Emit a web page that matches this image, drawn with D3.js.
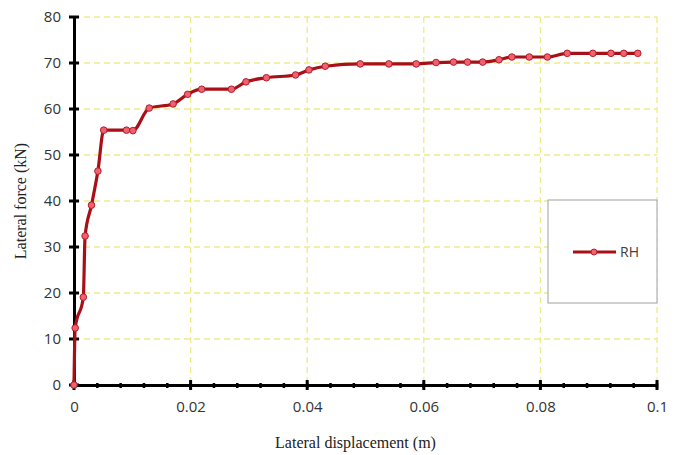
<!DOCTYPE html>
<html>
<head>
<meta charset="utf-8">
<script src="https://cdn.jsdelivr.net/npm/d3@7"></script>
<style>
  html, body { margin: 0; padding: 0; background: #fff; }
  svg { display: block; }
</style>
</head>
<body>
<svg id="chart" width="674" height="455"></svg>
<script>
// Lateral displacement (m) and lateral force (kN) for the RH specimen
const displacement = [0, 0.0002, 0.0016, 0.0019, 0.003, 0.0041, 0.0051, 0.009, 0.0101, 0.0129, 0.017,
  0.0195, 0.0219, 0.027, 0.0295, 0.033, 0.038, 0.0403, 0.0431, 0.0491, 0.054, 0.0587, 0.0621,
  0.0651, 0.0675, 0.0701, 0.0729, 0.0751, 0.0781, 0.0812, 0.0846, 0.089, 0.0921, 0.0943, 0.0967];
const force = [0, 12.4, 19.1, 32.4, 39.1, 46.5, 55.4, 55.4, 55.3, 60.2, 61.1,
  63.2, 64.3, 64.3, 65.9, 66.8, 67.4, 68.5, 69.3, 69.8, 69.8, 69.8, 70.1,
  70.2, 70.2, 70.2, 70.7, 71.3, 71.3, 71.3, 72.1, 72.1, 72.1, 72.1, 72.1];
const seriesName = "RH";
const xTicks = [0, 0.02, 0.04, 0.06, 0.08, 0.1];
const yTicks = [0, 10, 20, 30, 40, 50, 60, 70, 80];

const svg = d3.select("#chart");
const plotLeft = 74, plotRight = 657, plotTop = 17, plotBottom = 385;

const x = d3.scaleLinear().domain([0, 0.1]).range([plotLeft, plotRight]);
const y = d3.scaleLinear().domain([0, 80]).range([plotBottom, plotTop]);

// gridlines
const grid = svg.append("g").attr("stroke", "#eeec8a").attr("stroke-width", 1.3)
  .attr("stroke-dasharray", "6,4");
grid.selectAll(".hg").data(yTicks.filter(d => d > 0)).join("line")
  .attr("x1", plotLeft).attr("x2", plotRight).attr("y1", d => y(d)).attr("y2", d => y(d));
grid.selectAll(".vg").data(xTicks.filter(d => d > 0)).join("line")
  .attr("y1", plotTop).attr("y2", plotBottom).attr("x1", d => x(d)).attr("x2", d => x(d));

// legend box
const lg = svg.append("g");
lg.append("rect").attr("x", 548).attr("y", 200).attr("width", 109).attr("height", 103)
  .attr("fill", "#fff").attr("stroke", "#a0a0a0").attr("stroke-width", 1);

// axes
const xAxis = d3.axisBottom(x).tickValues(xTicks).tickFormat(d => d3.format("~g")(d))
  .tickSizeInner(0).tickSizeOuter(0).tickPadding(16);
const gx = svg.append("g").attr("transform", `translate(0,${plotBottom})`).call(xAxis);
gx.select(".domain").attr("stroke", "#000").attr("stroke-width", 3);

const yAxis = d3.axisLeft(y).tickValues(yTicks).tickSizeInner(0).tickSizeOuter(0).tickPadding(13);
const gy = svg.append("g").attr("transform", `translate(${plotLeft},0)`).call(yAxis);
gy.select(".domain").attr("stroke", "#000").attr("stroke-width", 3);

svg.selectAll(".tick text").attr("font-family", "Open Sans, sans-serif").attr("font-size", 15)
  .attr("fill", "#333");

// major and minor tick marks
const minorX = d3.range(0, 0.1001, 0.004);
svg.append("g").selectAll("line").data(minorX).join("line")
  .attr("x1", d => x(d)).attr("x2", d => x(d)).attr("y1", plotBottom - 2).attr("y2", plotBottom + 3)
  .attr("stroke", "#000").attr("stroke-width", 2.5);
svg.append("g").selectAll("line").data(xTicks).join("line")
  .attr("x1", d => x(d)).attr("x2", d => x(d)).attr("y1", plotBottom - 5).attr("y2", plotBottom + 5)
  .attr("stroke", "#000").attr("stroke-width", 3);
svg.append("g").selectAll("line").data(yTicks).join("line")
  .attr("x1", plotLeft - 5).attr("x2", plotLeft + 5).attr("y1", d => y(d)).attr("y2", d => y(d))
  .attr("stroke", "#000").attr("stroke-width", 3);

// axis titles
svg.append("text").attr("x", (plotLeft + plotRight) / 2 - 10).attr("y", 448).attr("text-anchor", "middle")
  .attr("font-family", "Liberation Serif, serif").attr("font-size", 16).attr("fill", "#222")
  .text("Lateral displacement (m)");
svg.append("text").attr("transform", `translate(26,${(plotTop + plotBottom) / 2}) rotate(-90)`)
  .attr("text-anchor", "middle")
  .attr("font-family", "Liberation Serif, serif").attr("font-size", 16).attr("fill", "#222")
  .text("Lateral force (kN)");

// series
const pts = displacement.map((d, i) => [d, force[i]]);
const line = d3.line().x(d => x(d[0])).y(d => y(d[1])).curve(d3.curveMonotoneX);
svg.append("path").datum(pts).attr("d", line).attr("fill", "none")
  .attr("stroke", "#a80f16").attr("stroke-width", 3.2).attr("stroke-linejoin", "round");
svg.append("g").selectAll("circle").data(pts).join("circle")
  .attr("cx", d => x(d[0])).attr("cy", d => y(d[1])).attr("r", 3.3)
  .attr("fill", "#f0606e").attr("stroke", "#b0202a").attr("stroke-width", 1);

// legend entry
lg.append("line").attr("x1", 573).attr("x2", 616).attr("y1", 252).attr("y2", 252)
  .attr("stroke", "#a80f16").attr("stroke-width", 3.2);
lg.append("circle").attr("cx", 594).attr("cy", 252).attr("r", 3)
  .attr("fill", "#f0606e").attr("stroke", "#b0202a").attr("stroke-width", 1);
lg.append("text").attr("x", 620).attr("y", 257).attr("font-family", "Open Sans, sans-serif")
  .attr("font-size", 14).attr("fill", "#404040").text(seriesName);
</script>
</body>
</html>
